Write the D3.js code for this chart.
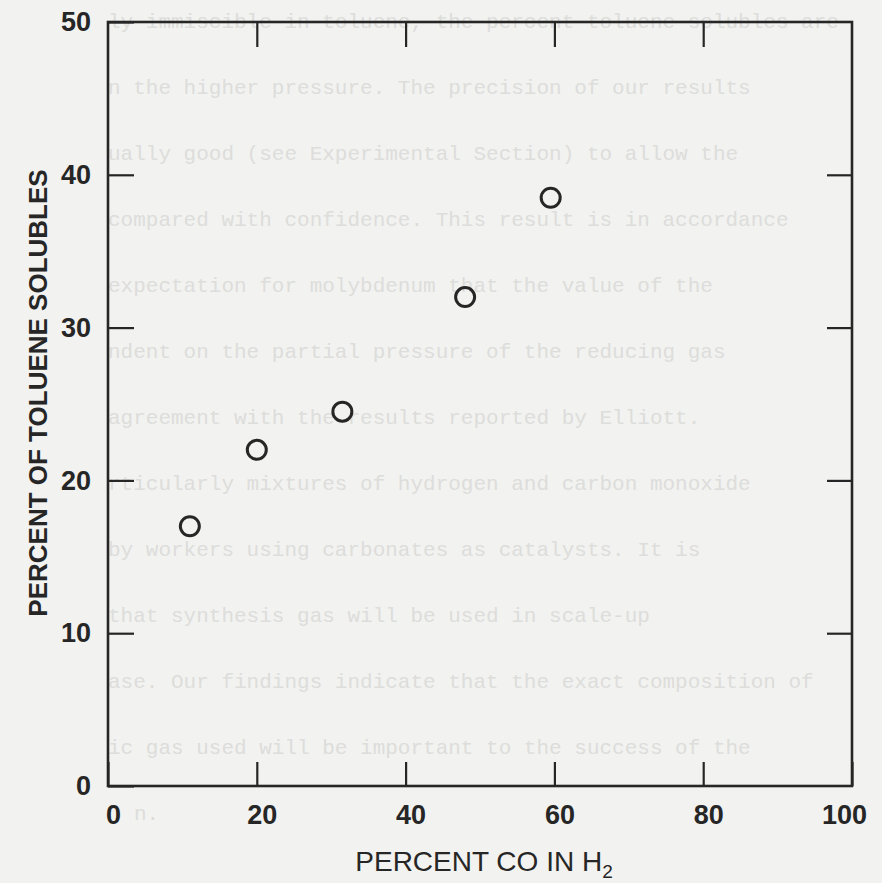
<!DOCTYPE html>
<html>
<head>
<meta charset="utf-8">
<script src="https://cdn.jsdelivr.net/npm/d3@7"></script>
<style>
  html, body { margin: 0; padding: 0; background: #f2f2f0; }
  svg { display: block; }
</style>
</head>
<body>
<div id="chart"></div>
<script>
// percent CO in H2 vs percent toluene solubles
var coPercent = [11, 20, 31.5, 48, 59.5];
var solubles = [17, 22, 24.5, 32, 38.5];
var xTicks = [0, 20, 40, 60, 80, 100];
var yTicks = [0, 10, 20, 30, 40, 50];

// faint typed text showing through from the back of the page
var bleedLines = [
    "ly immiscible in toluene, the percent toluene solubles are",
    "n the higher pressure. The precision of our results",
    "ually good (see Experimental Section) to allow the",
    "compared with confidence. This result is in accordance",
    "expectation for molybdenum that the value of the",
    "ndent on the partial pressure of the reducing gas",
    "agreement with the results reported by Elliott.",
    "rticularly mixtures of hydrogen and carbon monoxide",
    "by workers using carbonates as catalysts. It is",
    "that synthesis gas will be used in scale-up",
    "ase. Our findings indicate that the exact composition of",
    "ic gas used will be important to the success of the",
    "n."
];

var width = 882, height = 883;
var svg = d3.select("#chart").append("svg")
    .attr("width", width)
    .attr("height", height);

svg.append("rect")
    .attr("width", width)
    .attr("height", height)
    .attr("fill", "#f2f2f0");

svg.append("g").selectAll("text")
    .data(bleedLines)
    .enter()
    .append("text")
    .attr("x", function(d, i){ return i === bleedLines.length - 1 ? 134 : 108; })
    .attr("y", function(d, i){ return 28 + i*66; })
    .style("font-family", "'Liberation Mono', 'DejaVu Sans Mono', monospace")
    .style("font-size", "21px")
    .style("fill", "#dddddb")
    .text(function(d){ return d; });

var x = d3.scaleLinear().domain([0, 100]).range([108, 852]);
var y = d3.scaleLinear().domain([0, 50]).range([786, 22]);
var ink = "#262626";

// frame
svg.append("rect")
    .attr("x", x(0))
    .attr("y", y(50))
    .attr("width", x(100) - x(0))
    .attr("height", y(0) - y(50))
    .attr("fill", "none")
    .attr("stroke", ink)
    .attr("stroke-width", 2.6);

function styleAxis(g){
    g.select(".domain").remove();
    g.selectAll(".tick line").attr("stroke", ink).attr("stroke-width", 2.2);
    g.selectAll(".tick text")
        .style("font-family", "'Liberation Sans', Arial, sans-serif")
        .style("font-weight", "bold")
        .style("font-size", "27px")
        .attr("fill", ink);
}

svg.append("g")
    .attr("transform", "translate(" + x(0) + ",0)")
    .call(d3.axisLeft(y).tickValues(yTicks).tickSize(-26).tickPadding(17))
    .call(styleAxis);

svg.append("g")
    .attr("transform", "translate(" + x(100) + ",0)")
    .call(d3.axisRight(y).tickValues([10, 20, 30, 40]).tickSize(-25).tickFormat(""))
    .call(styleAxis);

var bottom = svg.append("g")
    .attr("transform", "translate(0," + y(0) + ")")
    .call(d3.axisBottom(x).tickValues(xTicks).tickSize(-24).tickPadding(19))
    .call(styleAxis);
bottom.selectAll(".tick text")
    .attr("dx", function(d){ return d === 100 ? -8 : 5; });

svg.append("g")
    .attr("transform", "translate(0," + y(50) + ")")
    .call(d3.axisTop(x).tickValues([20, 40, 60, 80]).tickSize(-25).tickFormat(""))
    .call(styleAxis);

// points
svg.append("g").selectAll("circle")
    .data(coPercent)
    .enter()
    .append("circle")
    .attr("cx", function(d){ return x(d); })
    .attr("cy", function(d, i){ return y(solubles[i]); })
    .attr("r", 9.5)
    .attr("fill", "none")
    .attr("stroke", ink)
    .attr("stroke-width", 3);

// axis titles
svg.append("text")
    .attr("transform", "translate(38," + 393 + ") rotate(-90)")
    .attr("text-anchor", "middle")
    .attr("dominant-baseline", "central")
    .style("font-family", "'Liberation Sans', Arial, sans-serif")
    .style("font-weight", "bold")
    .style("font-size", "26px")
    .attr("fill", ink)
    .text("PERCENT OF TOLUENE SOLUBLES");

var xTitle = svg.append("text")
    .attr("x", 484)
    .attr("y", 871)
    .attr("text-anchor", "middle")
    .style("font-family", "'Liberation Sans', Arial, sans-serif")
    .style("font-size", "28px")
    .attr("fill", ink);
xTitle.append("tspan").text("PERCENT CO IN H");
xTitle.append("tspan")
    .attr("dy", 7)
    .style("font-size", "19px")
    .text("2");
</script>
</body>
</html>
